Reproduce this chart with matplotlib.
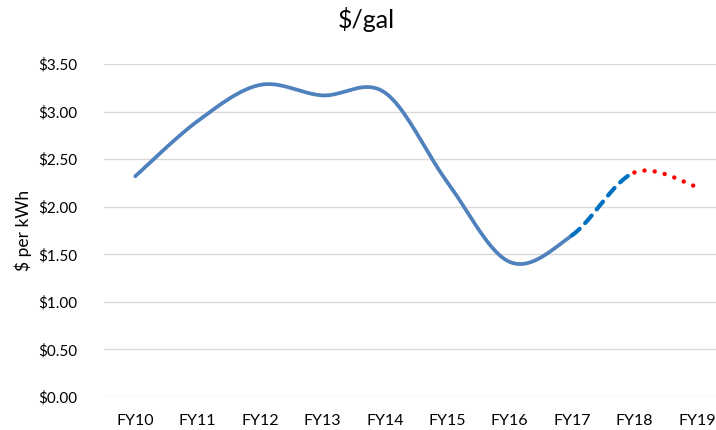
import numpy as np
import matplotlib
matplotlib.use("Agg")
import matplotlib.pyplot as plt

plt.rcParams['font.family'] = ['Lato', 'DejaVu Sans']

# data
years = ["FY10", "FY11", "FY12", "FY13", "FY14", "FY15", "FY16", "FY17", "FY18", "FY19"]
price = [2.32, 2.90, 3.28, 3.17, 3.20, 2.26, 1.42, 1.70, 2.36, 2.21]
yticks = [0.0, 0.5, 1.0, 1.5, 2.0, 2.5, 3.0, 3.5]


# Excel style smoothing (catmull-rom as bezier), returns a piece per interval
def smooth_pieces(x, y, n=40):
    x = np.asarray(x, float)
    y = np.asarray(y, float)
    pts = np.column_stack([x, y])
    m = len(pts)
    pieces = []
    t = np.linspace(0, 1, n)[:, None]
    for i in range(m - 1):
        p0 = pts[max(i - 1, 0)]
        p1 = pts[i]
        p2 = pts[i + 1]
        p3 = pts[min(i + 2, m - 1)]
        c1 = p1 + (p2 - p0) / 6.0
        c2 = p2 - (p3 - p1) / 6.0
        b = ((1 - t) ** 3) * p1 + 3 * ((1 - t) ** 2) * t * c1 + 3 * (1 - t) * t ** 2 * c2 + t ** 3 * p2
        pieces.append(b)
    return pieces


fig = plt.figure(figsize=(7.16, 4.30), dpi=100)
ax = fig.add_axes([0.1453, 0.0767, 0.8715, 0.7745])

xs = np.arange(len(years))
pieces = smooth_pieces(xs, price)

solid = np.vstack(pieces[:7])
ax.plot(solid[:, 0], solid[:, 1], color='#4F81BD', lw=2.7, solid_capstyle='round', zorder=3)

dash = pieces[7]
ax.plot(dash[:, 0], dash[:, 1], color='#0070C0', lw=3.0, linestyle=(0, (2.4, 1.9)),
        dash_capstyle='round', zorder=3)

dot = pieces[8]
ax.plot(dot[:, 0], dot[:, 1], color='#FF0000', lw=3.2, linestyle=(0, (0.01, 2.3)),
        dash_capstyle='round', zorder=3)

ax.set_xlim(-0.5, len(years) - 0.5)
ax.set_ylim(0, 3.5)
ax.set_xticks(xs)
ax.set_xticklabels(years)
ax.set_yticks(yticks)
ax.set_yticklabels(['${:.2f}'.format(v) for v in yticks])
ax.tick_params(axis='both', length=0, labelsize=11, colors='#000000')
ax.tick_params(axis='x', labelsize=11.5)
ax.tick_params(axis='y', pad=19)
ax.tick_params(axis='x', pad=12)
ax.grid(axis='y', color='#D9D9D9', lw=1.0)
ax.set_axisbelow(True)
for s in ax.spines.values():
    s.set_visible(False)

ax.set_ylabel('$ per kWh', fontsize=12.5)
ax.yaxis.set_label_coords(-0.116, 0.5)
fig.text(366 / 716, 1 - 20 / 430, '$/gal', ha='center', va='center', fontsize=18)

fig.savefig('out.png', dpi=100)
